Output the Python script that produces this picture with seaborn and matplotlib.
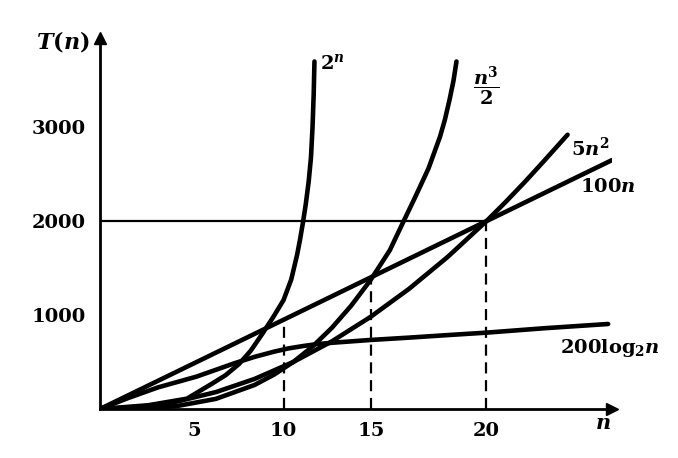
import matplotlib
matplotlib.use('Agg')
import matplotlib.pyplot as plt
import seaborn as sns

# 曲线数据（从图上读出，n 为横轴，T 为纵轴）
n_100n = [0, 10, 20, 26.5]
t_100n = [0, 1000, 2000, 2650]

n_5n2 = [0, 2, 4, 6, 8, 10, 12, 14, 16, 18, 20, 21, 22, 23, 24.2]
t_5n2 = [0, 20, 80, 180, 320, 500, 720, 980, 1280, 1620, 2000, 2205, 2420, 2645, 2920]

n_cube = [0, 2, 4, 6, 8, 9, 10, 11, 12, 13, 14, 15, 15.6, 16.3, 17.0, 17.6, 17.85, 18.1, 18.3, 18.45]
t_cube = [0, 4, 32, 108, 256, 365, 500, 665, 864, 1100, 1372, 1690, 1950, 2250, 2560, 2900, 3080, 3300, 3500, 3700]

n_exp = [0, 2.5, 4.5, 5.8, 6.5, 7.2, 7.8, 8.4, 9.0, 9.5, 9.9, 10.2, 10.35, 10.5, 10.65, 10.8, 10.92, 11.0, 11.06, 11.1]
t_exp = [0, 40, 110, 270, 360, 480, 620, 800, 990, 1160, 1380, 1640, 1800, 1980, 2180, 2420, 2680, 3000, 3350, 3700]

n_log = [0, 1.5, 3, 5, 7, 8, 9, 9.75, 10.5, 11.2, 12, 14, 16, 18, 20, 23, 26.3]
t_log = [0, 120, 230, 345, 490, 555, 610, 645, 670, 690, 705, 735, 760, 787, 813, 860, 905]

# 虚线（交点处）和水平线 T=2000
guide_n = [9.5, 14.05, 20.0]
guide_t = [900, 1390, 2000]
level_t = 2000

# 刻度
x_ticks = [4.9, 9.5, 14.05, 20.0]
x_tick_labels = ['5', '10', '15', '20']
y_ticks = [1000, 2000, 3000]

# 曲线标签
labels = [r'$2^n$', r'$\dfrac{n^3}{2}$', r'$5n^2$', r'$100n$', r'$200\mathrm{log}_2 n$']


def draw():
    sns.set_style('white')
    plt.rcParams['font.family'] = ['DejaVu Serif']
    plt.rcParams['text.color'] = 'black'
    plt.rcParams['mathtext.fontset'] = 'custom'
    plt.rcParams['mathtext.rm'] = 'DejaVu Serif:bold'
    plt.rcParams['mathtext.bf'] = 'DejaVu Serif:bold'
    plt.rcParams['mathtext.it'] = 'DejaVu Serif:italic:bold'

    fig = plt.figure(figsize=(6.78, 4.58), dpi=100)
    ax = fig.add_axes([100 / 678, 49 / 458, 512 / 678, 371 / 458])

    curves = [(n_exp, t_exp), (n_cube, t_cube), (n_5n2, t_5n2), (n_100n, t_100n), (n_log, t_log)]
    for xs, ys in curves:
        sns.lineplot(x=xs, y=ys, ax=ax, color='black', lw=3.3, sort=False, estimator=None)

    # 水平线 + 虚线
    ax.plot([0, guide_n[-1]], [level_t, level_t], color='black', lw=1.6)
    for gx, gt in zip(guide_n, guide_t):
        ax.plot([gx, gx], [0, gt], color='black', lw=1.6, ls=(0, (5, 3)))

    ax.set_xlim(0, 26.5)
    ax.set_ylim(0, 3950)

    # 坐标轴样式
    sns.despine(ax=ax)
    for s in ['left', 'bottom']:
        ax.spines[s].set_linewidth(2.0)
        ax.spines[s].set_color('black')
    ax.set_xticks(x_ticks)
    ax.set_xticklabels(x_tick_labels)
    ax.set_yticks(y_ticks)
    ax.set_yticklabels([str(v) for v in y_ticks])
    ax.tick_params(axis='both', direction='in', length=6, width=2, color='black',
                   labelsize=14, labelcolor='black')
    ax.tick_params(axis='x', pad=9)
    ax.tick_params(axis='y', pad=10)
    for lab in ax.get_xticklabels() + ax.get_yticklabels():
        lab.set_fontweight('bold')

    # 箭头
    ax.plot(1, 0, '>k', ms=8, transform=ax.get_yaxis_transform(), clip_on=False)
    ax.plot(0, 1, '^k', ms=8, transform=ax.get_xaxis_transform(), clip_on=False)

    # 曲线标签，挂在曲线末端
    offsets = [(6, -2), (17, -25), (3, -13), (-32, -27), (-48, -24)]
    for (xs, ys), txt, off in zip(curves, labels, offsets):
        ax.annotate(txt, xy=(xs[-1], ys[-1]), xytext=off, textcoords='offset pixels',
                    ha='left', va='center', fontsize=14, color='black')

    ax.text(-0.072, 0.99, r'$T(n)$', transform=ax.transAxes, ha='center', va='center',
            fontsize=16, color='black')
    ax.text(0.982, -0.038, r'$n$', transform=ax.transAxes, ha='center', va='center',
            fontsize=15, color='black')

    fig.savefig('out.png', dpi=100, facecolor='white')


if __name__ == '__main__':
    draw()
